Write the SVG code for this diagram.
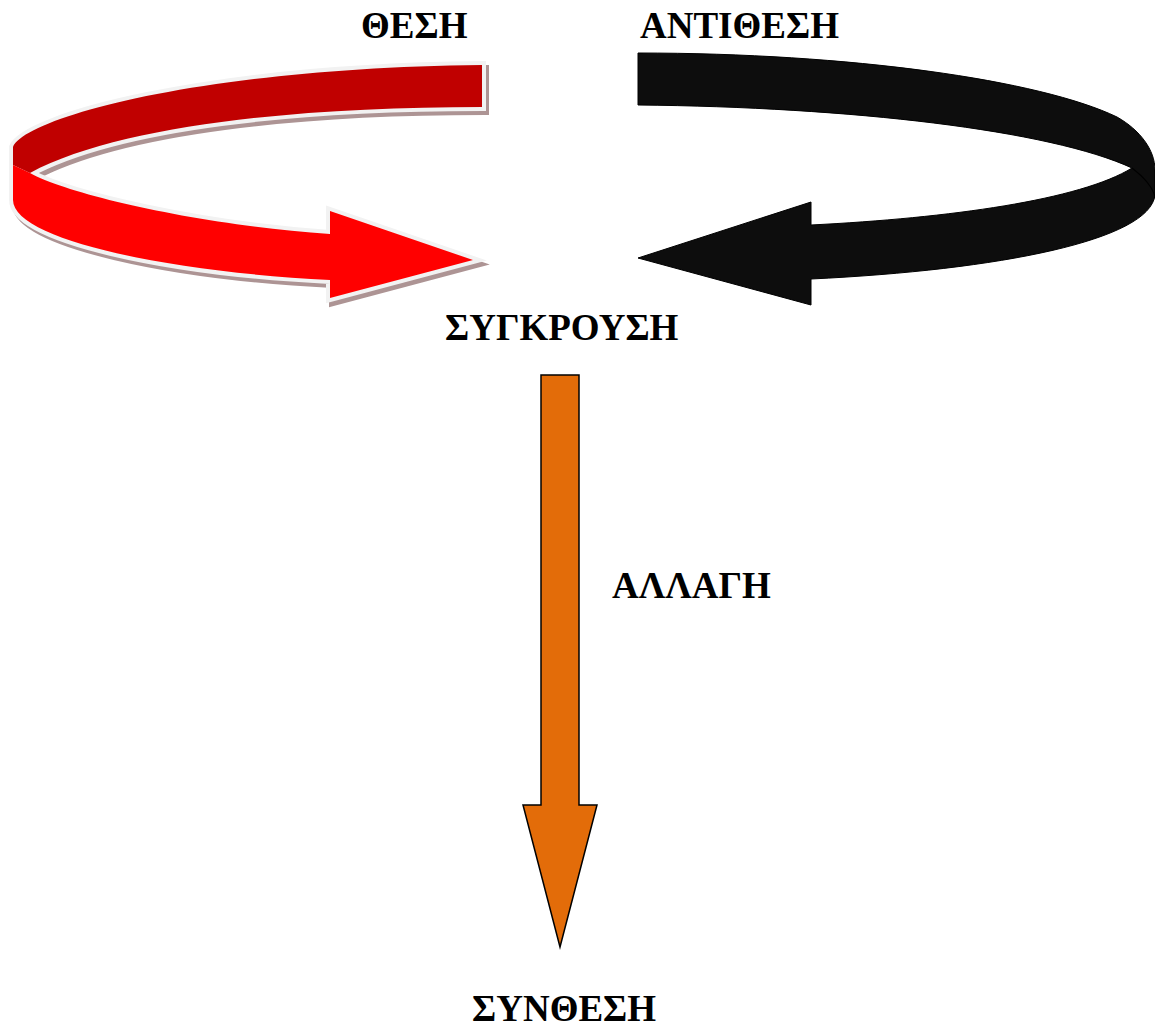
<svg xmlns="http://www.w3.org/2000/svg" width="1155" height="1030" viewBox="0 0 1155 1030">
  <style>
    .lbl { font-family: "Liberation Serif", "Times New Roman", serif; font-weight: bold; font-size: 37px; fill: #000; }
    .shadow { fill: #AD9494; stroke: #AD9494; stroke-width: 8; stroke-linejoin: miter; }
    .halo { fill: #F2F2F2; stroke: #F2F2F2; stroke-width: 8; stroke-linejoin: miter; }
  </style>
  <defs>
    <path id="redBack" d="M482,65 L482,107 C300,107 120,125 30,173 L13,165 L13,147 C25,118 200,68 482,65 Z"/>
    <path id="redFront" d="M13,165 L30,173 C70,195 200,225 330,234 L330,211 L473,260 L330,298 L330,280 C170,272 13,240 13,200 Z"/>
  </defs>
  <rect width="1155" height="1030" fill="#FFFFFF"/>

  <g id="connectors">
    <g id="thesis-arrow">
      <g class="shadow" transform="translate(3,4)">
        <use href="#redBack"/>
        <use href="#redFront"/>
      </g>
      <g class="halo">
        <use href="#redBack"/>
        <use href="#redFront"/>
      </g>
      <use href="#redBack" fill="#C00000"/>
      <use href="#redFront" fill="#FF0000"/>
    </g>

    <g id="antithesis-arrow">
      <path d="M638,53 C850,53 1040,80 1117,117 C1140,130 1155,150 1155,170 L1155,195 C1150,240 1000,270 811,279 L811,305 L638,258 L811,202 L811,225 C950,218 1080,200 1132,168 C1050,130 850,107 638,105 Z" fill="#0D0D0D" stroke="#000" stroke-width="1"/>
      <path d="M1132,168 C1145,178 1153,188 1155,197" fill="none" stroke="#000" stroke-width="1.2"/>
    </g>

    <g id="change-arrow">
      <path d="M541,375 L579,375 L579,805 L597,805 L560,947 L523,805 L541,805 Z" fill="#E36C09" stroke="#000" stroke-width="1.5" stroke-linejoin="miter"/>
    </g>
  </g>

  <g id="node-thesis"><text class="lbl" x="361" y="38">ΘΕΣΗ</text></g>
  <g id="node-antithesis"><text class="lbl" x="640" y="38">ΑΝΤΙΘΕΣΗ</text></g>
  <g id="node-conflict"><text class="lbl" x="445" y="340">ΣΥΓΚΡΟΥΣΗ</text></g>
  <g id="node-change"><text class="lbl" x="612" y="598">ΑΛΛΑΓΗ</text></g>
  <g id="node-synthesis"><text class="lbl" x="472" y="1021">ΣΥΝΘΕΣΗ</text></g>
</svg>
